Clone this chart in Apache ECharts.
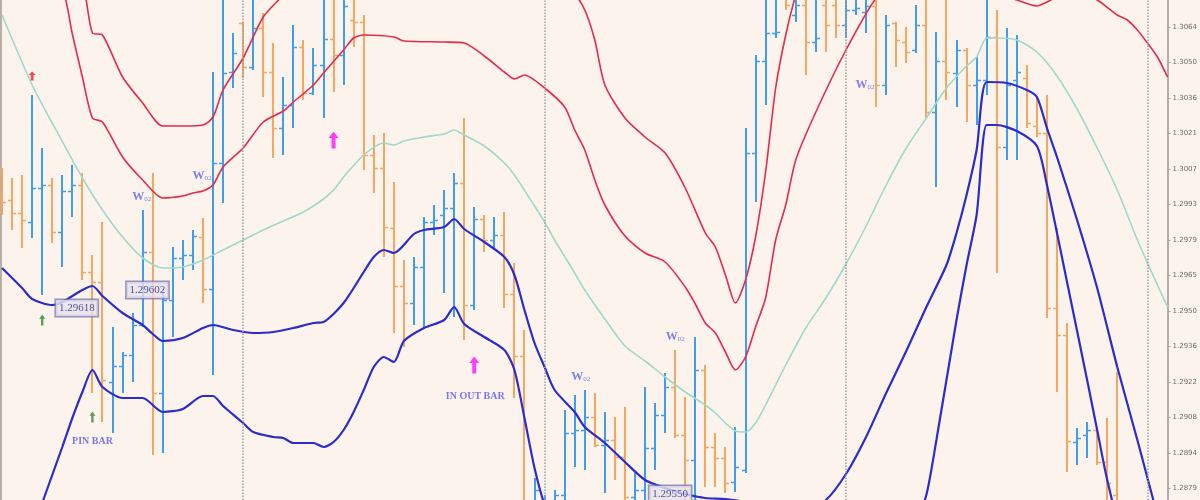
<!DOCTYPE html>
<html><head><meta charset="utf-8">
<script src="https://cdn.jsdelivr.net/npm/echarts@6/dist/echarts.min.js"></script>
<style>html,body{margin:0;padding:0;background:#FCF4EC;overflow:hidden}#c{width:1200px;height:524px}</style>
</head><body><div id="c"></div>
<script>
// ---- bar data (price), index = bar number ----
const opens = [1.29968,1.29948,1.29896,1.29860,1.29996,1.30008,1.29820,1.29984,1.30008,1.29660,
1.29620,1.29220,1.29284,1.29328,1.29448,1.29740,1.29176,1.29548,1.29716,1.29728,
1.29800,1.29592,1.30096,1.30460,1.30656,1.30480,1.30636,1.30460,1.30236,1.30328,
1.30560,1.30376,1.30488,1.30592,1.30528,1.30668,1.30660,1.30128,1.30076,1.29836,
1.29604,1.29536,1.29680,1.29860,1.29888,1.29916,1.30016,1.29528,1.29872,1.29788,
1.29808,1.29572,1.29324,1.28728,1.28716,1.28740,1.28768,1.29016,1.29028,1.29080,
1.28968,1.28988,1.28920,1.28760,1.28788,1.28956,1.29088,1.29200,1.29008,1.28908,
1.29268,1.28960,1.28916,1.28820,1.28868,1.30136,1.30504,1.30616,1.30756,1.30688,
1.30728,1.30580,1.30728,1.30728,1.30648,1.30708,1.30700,1.30724,1.30408,1.30656,
1.30580,1.30548,1.30648,1.30300,1.30504,1.30456,1.30548,1.30408,1.30428,1.30600,
1.30160,1.30428,1.30436,1.30244,1.30216,1.29516,1.29408,1.28980,1.29008,1.29028,
1.28900,1.28768];
const closes = [1.29940,1.29896,1.29868,1.29996,1.30008,1.29820,1.29984,1.30008,1.29660,1.29620,
1.29228,1.29284,1.29328,1.29448,1.29740,1.29176,1.29548,1.29716,1.29728,1.29804,
1.29592,1.30096,1.30456,1.30536,1.30480,1.30636,1.30460,1.30236,1.30328,1.30560,
1.30376,1.30488,1.30592,1.30528,1.30724,1.30660,1.30128,1.30076,1.29840,1.29604,
1.29536,1.29680,1.29860,1.29868,1.29916,1.30016,1.29528,1.29872,1.29788,1.29808,
1.29572,1.29324,1.28728,1.28788,1.28740,1.28768,1.29016,1.29028,1.29080,1.28968,
1.28988,1.28920,1.28760,1.28788,1.28956,1.29088,1.29200,1.29008,1.28908,1.29268,
1.28960,1.28916,1.28816,1.28880,1.30136,1.30504,1.30616,1.30620,1.30728,1.30728,
1.30580,1.30596,1.30648,1.30648,1.30708,1.30716,1.30724,1.30408,1.30648,1.30588,
1.30540,1.30648,1.30300,1.30504,1.30460,1.30548,1.30408,1.30428,1.30600,1.30160,
1.30408,1.30460,1.30256,1.30216,1.29516,1.29408,1.28984,1.28996,1.29028,1.28900,
1.28816,1.28668];
const highs = [1.30076,1.30036,1.30048,1.30368,1.30156,1.30036,1.30048,1.30088,1.30056,1.29728,
1.29860,1.29440,1.29340,1.29496,1.29908,1.30056,1.29588,1.29760,1.29788,1.29828,
1.29876,1.30460,1.30780,1.30616,1.30660,1.30768,1.30696,1.30576,1.30440,1.30648,
1.30588,1.30556,1.30788,1.30796,1.30808,1.30780,1.30688,1.30208,1.30216,1.30020,
1.29708,1.29720,1.29880,1.29928,1.29988,1.30056,1.30276,1.29920,1.29888,1.29880,
1.29900,1.29696,1.29428,1.28836,1.28768,1.28788,1.29108,1.29168,1.29188,1.29176,
1.29100,1.29080,1.29120,1.28856,1.29200,1.29136,1.29256,1.29348,1.29160,1.29400,
1.29288,1.29016,1.28960,1.29040,1.30236,1.30528,1.30788,1.30808,1.30808,1.30788,
1.30768,1.30768,1.30780,1.30768,1.30768,1.30788,1.30788,1.30768,1.30688,1.30660,
1.30640,1.30728,1.30768,1.30620,1.30756,1.30588,1.30556,1.30520,1.30788,1.30708,
1.30636,1.30608,1.30488,1.30360,1.30368,1.29836,1.29456,1.29036,1.29060,1.29036,
1.29076,1.29260];
const lows = [1.29888,1.29828,1.29756,1.29796,1.29568,1.29776,1.29680,1.29880,1.29628,1.29176,
1.29060,1.29016,1.29176,1.29220,1.29440,1.28928,1.28936,1.29400,1.29628,1.29668,
1.29536,1.29248,1.29936,1.30396,1.30436,1.30468,1.30360,1.30116,1.30128,1.30236,
1.30348,1.30368,1.30276,1.30380,1.30408,1.30560,1.30068,1.29976,1.29720,1.29416,
1.29360,1.29448,1.29436,1.29808,1.29576,1.29480,1.29388,1.29508,1.29740,1.29748,
1.29516,1.29156,1.28668,1.28688,1.28648,1.28668,1.28648,1.28880,1.28868,1.28960,
1.28776,1.28828,1.28728,1.28708,1.28728,1.28868,1.29016,1.28996,1.28728,1.28728,
1.28800,1.28800,1.28776,1.28780,1.28856,1.29940,1.30328,1.30596,1.30708,1.30660,
1.30448,1.30540,1.30540,1.30596,1.30596,1.30688,1.30616,1.30320,1.30368,1.30480,
1.30496,1.30536,1.30276,1.30000,1.30348,1.30320,1.30260,1.30248,1.30368,1.29656,
1.30108,1.30108,1.30236,1.30200,1.29476,1.29180,1.28860,1.28888,1.28916,1.28888,
1.28728,1.28588];

// ---- band lines: [bar index, price] ----
const upperOuter = [[0,1.31188],[4,1.31068],[8,1.30808],[9,1.30616],[10,1.30608],[12,1.30440],[14,1.30336],[16,1.30244],[18,1.30244],[20,1.30248],[21,1.30280],[22,1.30388],[24,1.30516],[26,1.30680],[28,1.30768],[31,1.30908],[35,1.30968],[40,1.30968],[46,1.30928],[50,1.30908],[54,1.30848],[57,1.30768],[58,1.30708],[59,1.30588],[60,1.30408],[62,1.30276],[64,1.30200],[66,1.30136],[68,1.29996],[70,1.29816],[71,1.29760],[72,1.29648],[73,1.29536],[74,1.29628],[75,1.29800],[76,1.30060],[77,1.30396],[78,1.30608],[79,1.30768],[81,1.31028],[85,1.31228],[90,1.31308],[100,1.31348],[110,1.31228],[116,1.31068]];
const upperInner = [[0,1.30988],[4,1.30888],[6,1.30796],[7,1.30612],[8,1.30440],[9,1.30276],[10,1.30260],[12,1.30120],[14,1.30028],[16,1.29956],[18,1.29964],[19,1.29976],[20,1.29984],[21,1.30008],[22,1.30080],[24,1.30156],[26,1.30260],[28,1.30304],[29,1.30340],[31,1.30408],[32,1.30456],[34,1.30548],[35,1.30596],[36,1.30608],[39,1.30600],[40,1.30584],[44,1.30580],[46,1.30576],[48,1.30524],[50,1.30460],[51,1.30432],[52,1.30448],[54,1.30396],[56,1.30320],[57,1.30228],[58,1.30148],[59,1.30028],[60,1.29928],[62,1.29804],[64,1.29736],[66,1.29700],[68,1.29600],[69,1.29532],[70,1.29456],[71,1.29416],[72,1.29340],[73,1.29268],[74,1.29320],[75,1.29440],[76,1.29556],[77,1.29788],[78,1.29928],[79,1.30108],[81,1.30300],[84,1.30548],[87,1.30756],[90,1.30868],[95,1.30848],[99,1.30780],[101,1.30748],[103,1.30724],[104,1.30740],[105,1.30760],[107,1.30780],[109,1.30748],[111,1.30688],[112,1.30668],[113,1.30628],[114,1.30576],[115,1.30520],[116,1.30440]];
const middleBand = [[0,1.30688],[3,1.30408],[5,1.30256],[8,1.30036],[10,1.29908],[12,1.29800],[14,1.29716],[16,1.29676],[18,1.29680],[20,1.29708],[22,1.29748],[24,1.29788],[26,1.29828],[28,1.29864],[30,1.29900],[32,1.29952],[33,1.29988],[34,1.30040],[36,1.30128],[38,1.30176],[39,1.30168],[40,1.30184],[42,1.30200],[44,1.30212],[45,1.30228],[46,1.30208],[48,1.30164],[50,1.30096],[51,1.30048],[53,1.29924],[54,1.29860],[55,1.29788],[57,1.29656],[58,1.29588],[60,1.29472],[62,1.29364],[64,1.29304],[66,1.29240],[68,1.29180],[70,1.29128],[71,1.29096],[72,1.29056],[73,1.29024],[74,1.29020],[75,1.29056],[76,1.29128],[77,1.29208],[78,1.29288],[80,1.29436],[82,1.29556],[84,1.29692],[86,1.29844],[88,1.30008],[90,1.30156],[92,1.30276],[94,1.30396],[96,1.30484],[97,1.30520],[98,1.30596],[99,1.30596],[101,1.30588],[103,1.30540],[105,1.30444],[107,1.30312],[109,1.30156],[111,1.29988],[113,1.29788],[115,1.29608],[116,1.29520]];
const lowerInner = [[0,1.29676],[2,1.29596],[3,1.29552],[5,1.29528],[6,1.29540],[8,1.29588],[9,1.29604],[10,1.29564],[12,1.29496],[14,1.29448],[15,1.29412],[16,1.29384],[18,1.29396],[20,1.29436],[21,1.29448],[23,1.29428],[25,1.29416],[27,1.29420],[29,1.29436],[31,1.29456],[32,1.29460],[34,1.29536],[36,1.29660],[37,1.29720],[38,1.29748],[39,1.29736],[41,1.29812],[42,1.29828],[44,1.29840],[45,1.29872],[46,1.29832],[48,1.29780],[50,1.29720],[51,1.29648],[52,1.29508],[53,1.29376],[54,1.29280],[55,1.29188],[57,1.29100],[58,1.29040],[60,1.28976],[62,1.28900],[64,1.28828],[66,1.28796],[68,1.28772],[70,1.28756],[72,1.28752],[74,1.28740],[76,1.28720],[78,1.28708],[80,1.28712],[82,1.28748],[84,1.28852],[86,1.29000],[88,1.29176],[90,1.29344],[92,1.29520],[94,1.29688],[95,1.29816],[96,1.29968],[97,1.30148],[98,1.30420],[100,1.30416],[102,1.30388],[103,1.30360],[104,1.30236],[105,1.30120],[107,1.29868],[109,1.29596],[111,1.29280],[113,1.28988],[115,1.28688],[116,1.28568]];
const lowerOuter = [[0,1.28288],[2,1.28508],[4,1.28736],[6,1.28960],[7,1.29076],[8,1.29180],[9,1.29268],[10,1.29200],[12,1.29156],[14,1.29156],[16,1.29100],[18,1.29112],[20,1.29164],[21,1.29164],[22,1.29124],[24,1.29056],[25,1.29020],[27,1.29000],[28,1.28996],[29,1.28976],[31,1.28976],[32,1.28960],[33,1.28980],[34,1.29028],[35,1.29100],[36,1.29188],[37,1.29280],[38,1.29320],[39,1.29300],[40,1.29384],[42,1.29436],[44,1.29468],[45,1.29520],[46,1.29452],[48,1.29400],[50,1.29348],[51,1.29268],[52,1.29076],[53,1.28876],[54,1.28728],[56,1.28508],[60,1.28268],[66,1.28108],[72,1.28068],[78,1.28148],[84,1.28348],[88,1.28508],[91,1.28668],[92,1.28768],[93,1.28988],[95,1.29468],[96,1.29688],[97,1.29888],[98,1.30248],[99,1.30248],[101,1.30224],[103,1.30164],[104,1.30008],[106,1.29620],[108,1.29228],[109,1.29028],[110,1.28828],[112,1.28508],[116,1.27948]];

// ---- annotations ----
const magentaArrows = [[33,1.30188],[47,1.29288]];
const greenArrows = [[4,1.29468],[9,1.29080]];
const redMarks = [[3,1.30444]];
const textNotes = [[9,1.28984,'PIN BAR'],[47.1,1.29164,'IN OUT BAR']];
const priceTags = [[7.44,1.29516,'1.29618'],[14.48,1.29588,'1.29602'],[66.5,1.28772,'1.29550']];
const wLabels = [[13.9,1.29960],[19.9,1.30044],[57.6,1.29240],[67.0,1.29400],[85.9,1.30408]];
const separators = [24,54,84,114];

// ---- axis ----
const yMin = 1.28652, yMax = 1.30748, yStep = 0.00142;
const xMin = -0.2, xMax = 116;

const chart = echarts.init(document.getElementById('c'), null, {renderer:'canvas'});
const ohlc = opens.map((o,i)=>[i,o,closes[i],lows[i],highs[i]]);

function renderBar(params, api){
  const i = api.value(0), o = api.value(1), c = api.value(2), l = api.value(3), h = api.value(4);
  const pH = api.coord([i,h]), pL = api.coord([i,l]), pO = api.coord([i,o]), pC = api.coord([i,c]);
  const up = c >= o;
  const color = up ? '#3F9DF2' : '#F5A660';
  const x = Math.round(pH[0]);
  return {type:'group', children:[
    {type:'line', shape:{x1:x,y1:pH[1],x2:x,y2:pL[1]}, style:{stroke:color,lineWidth:2}},
    {type:'line', shape:{x1:x-4,y1:Math.round(pO[1])+0.5,x2:x,y2:Math.round(pO[1])+0.5}, style:{stroke:color,lineWidth:1.5}},
    {type:'line', shape:{x1:x,y1:Math.round(pC[1])+0.5,x2:x+4,y2:Math.round(pC[1])+0.5}, style:{stroke:color,lineWidth:1.5}}
  ]};
}
const arrowPath = 'path://M5,0 L10,6 L7,6 L7,16 L3,16 L3,6 L0,6 Z';
function bandLine(data, color, width, extra){
  return Object.assign({type:'line', data, showSymbol:false, symbol:'none', smooth:0.25, clip:true,
    lineStyle:{color, width}, silent:true, z:3}, extra||{});
}

const option = {
  animation:false,
  backgroundColor:'#FCF4EC',
  grid:{left:0, right:28, top:0, bottom:0, containLabel:false},
  xAxis:{type:'value', min:xMin, max:xMax, show:false},
  yAxis:{type:'value', position:'right', min:yMin, max:yMax, interval:yStep,
    axisLine:{show:true, onZero:false, lineStyle:{color:'#B4AEA8', width:2}},
    axisTick:{show:true, inside:false, length:3, lineStyle:{color:'#A8A29C'}},
    splitLine:{show:false},
    axisLabel:{show:true, margin:5, fontSize:7, color:'#6E6E6E', fontFamily:'DejaVu Sans',
      showMaxLabel:false, showMinLabel:false, formatter:v=>v.toFixed(4)}},
  graphic:[{type:'rect', left:0, top:0, shape:{width:2, height:524}, style:{fill:'#B8B0A8'}, silent:true}],
  series:[
    bandLine(middleBand,'#9FD9C9',1.6,{markLine:{silent:true, symbol:'none', label:{show:false},
      lineStyle:{color:'#A0A0A0', type:'dotted', width:1.5},
      data:separators.map(s=>({xAxis:s}))}}),
    bandLine(upperOuter,'#E6294C',1.6),
    bandLine(upperInner,'#E6294C',1.6),
    {type:'custom', renderItem:renderBar, data:ohlc, encode:{x:0, y:[1,2,3,4]}, clip:true, z:2, silent:true},
    bandLine(lowerInner,'#2B2BD0',2.2,{z:4}),
    bandLine(lowerOuter,'#2B2BD0',2.2,{z:4}),
    {type:'scatter', data:magentaArrows, symbol:arrowPath, symbolSize:[10,17], itemStyle:{color:'#FF10FF'}, z:6, silent:true},
    {type:'scatter', data:greenArrows, symbol:arrowPath, symbolSize:[6,11], itemStyle:{color:'#2E8B2E'}, z:6, silent:true},
    {type:'scatter', data:redMarks, symbol:arrowPath, symbolSize:[7,9], itemStyle:{color:'#E0242A'}, z:6, silent:true},
    {type:'scatter', data:textNotes, symbolSize:1, itemStyle:{color:'rgba(0,0,0,0)'}, z:7, silent:true,
      label:{show:true, position:'inside', formatter:p=>p.data[2], color:'#5656EE', fontSize:10,
        fontFamily:'Liberation Serif', fontWeight:'bold'}},
    {type:'scatter', data:priceTags, symbolSize:1, itemStyle:{color:'rgba(0,0,0,0)'}, z:7, silent:true,
      label:{show:true, position:'inside', formatter:p=>p.data[2], color:'#2C2C80', fontSize:11,
        fontFamily:'Liberation Serif', backgroundColor:'#E6E2EE', borderColor:'#7C7CB0', borderWidth:1.5, padding:[3,3,2,3]}},
    {type:'scatter', data:wLabels, symbolSize:1, itemStyle:{color:'rgba(0,0,0,0)'}, z:7, silent:true,
      label:{show:true, position:'inside', formatter:'{a|W}{b|02}',
        rich:{a:{color:'#6262EE', fontSize:12, fontFamily:'Liberation Serif', fontWeight:'bold'},
              b:{color:'#6262EE', fontSize:7, fontFamily:'Liberation Serif', verticalAlign:'bottom', padding:[4,0,0,0]}}}}
  ]
};
chart.setOption(option);
</script></body></html>
